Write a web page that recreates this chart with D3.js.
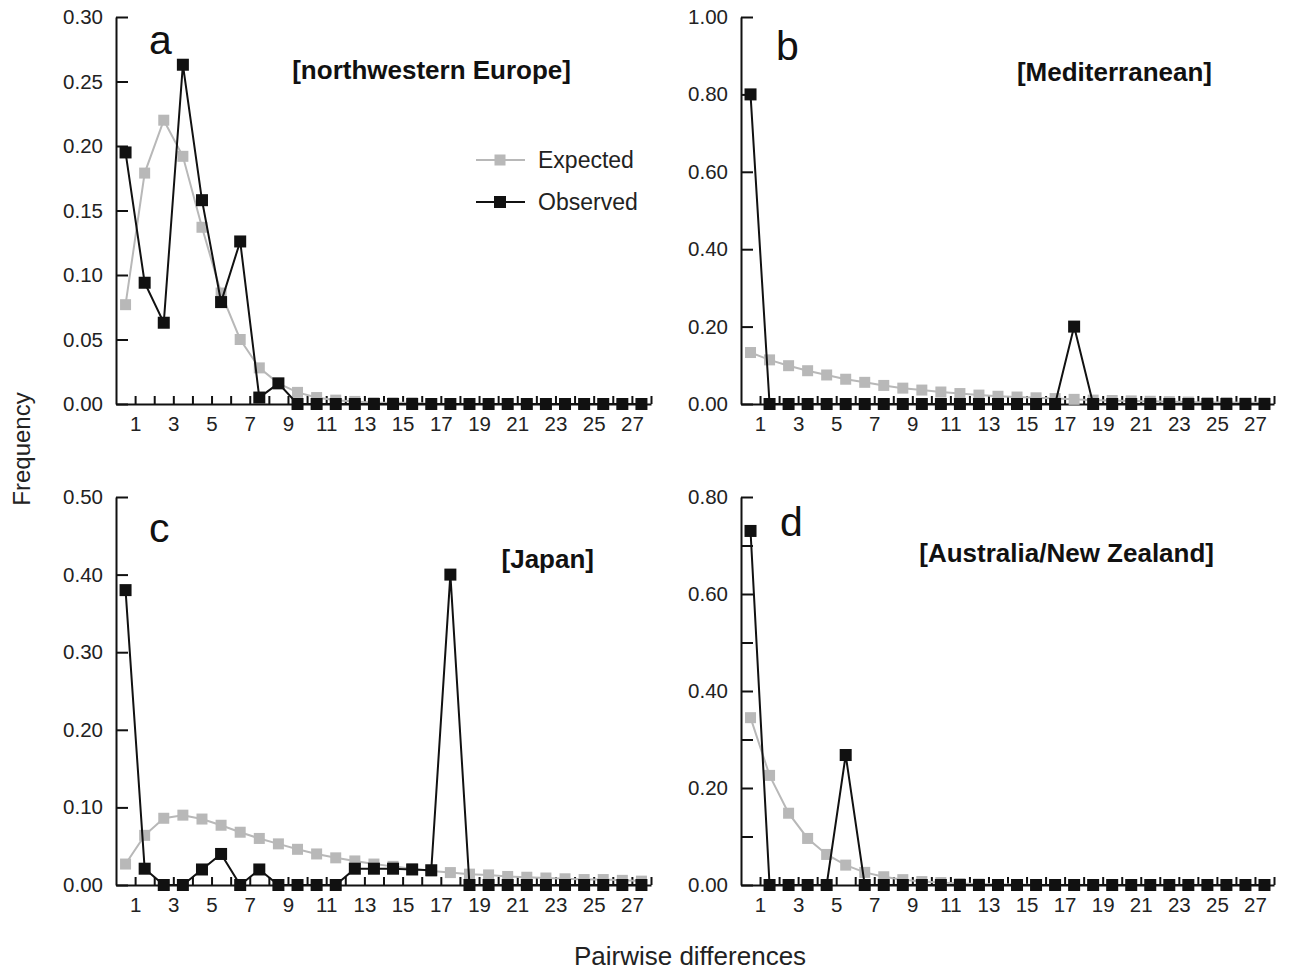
<!DOCTYPE html>
<html>
<head>
<meta charset="utf-8">
<style>
	body { margin: 0; background: #fff; }
	svg { display: block; font-family: "Liberation Sans", Arial, sans-serif; }
</style>
</head>
<body>
<svg width="1299" height="972"></svg>
<script src="https://d3js.org/d3.v7.min.js"></script>
<script>
	const svg = d3.select("svg");

	// pairwise difference classes (one point per class) and axis labels
	const diffClasses = [0, 1, 2, 3, 4, 5, 6, 7, 8, 9, 10, 11, 12, 13, 14, 15, 16, 17, 18, 19, 20, 21, 22, 23, 24, 25, 26, 27];
	const xTicks = [1, 2, 3, 4, 5, 6, 7, 8, 9, 10, 11, 12, 13, 14, 15, 16, 17, 18, 19, 20, 21, 22, 23, 24, 25, 26, 27, 28];
	const xLabels = [1, 3, 5, 7, 9, 11, 13, 15, 17, 19, 21, 23, 25, 27];

	// a: northwestern Europe
	const expectedA = [0.077, 0.179, 0.220, 0.192, 0.137, 0.086, 0.050, 0.028, 0.016, 0.009, 0.005, 0.003, 0.002, 0.001, 0.001, 0.001, 0, 0, 0, 0, 0, 0, 0, 0, 0, 0, 0, 0];
	const observedA = [0.195, 0.094, 0.063, 0.263, 0.158, 0.079, 0.126, 0.005, 0.016, 0, 0, 0, 0, 0, 0, 0, 0, 0, 0, 0, 0, 0, 0, 0, 0, 0, 0, 0];
	const yTicksA = [0, 0.05, 0.10, 0.15, 0.20, 0.25, 0.30];

	// b: Mediterranean
	const expectedB = [0.133, 0.114, 0.099, 0.086, 0.075, 0.064, 0.056, 0.048, 0.041, 0.036, 0.031, 0.027, 0.023, 0.020, 0.018, 0.016, 0.014, 0.012, 0.010, 0.009, 0.008, 0.007, 0.006, 0.005, 0.004, 0.004, 0.003, 0.003];
	const observedB = [0.80, 0, 0, 0, 0, 0, 0, 0, 0, 0, 0, 0, 0, 0, 0, 0, 0, 0.20, 0, 0, 0, 0, 0, 0, 0, 0, 0, 0];
	const yTicksB = [0, 0.20, 0.40, 0.60, 0.80, 1.00];

	// c: Japan
	const expectedC = [0.027, 0.064, 0.086, 0.090, 0.085, 0.077, 0.068, 0.060, 0.053, 0.046, 0.040, 0.035, 0.031, 0.027, 0.024, 0.021, 0.018, 0.016, 0.014, 0.013, 0.011, 0.010, 0.009, 0.008, 0.007, 0.007, 0.006, 0.005];
	const observedC = [0.38, 0.021, 0, 0, 0.020, 0.040, 0, 0.020, 0, 0, 0, 0, 0.021, 0.021, 0.021, 0.020, 0.019, 0.40, 0, 0, 0, 0, 0, 0, 0, 0, 0, 0];
	const yTicksC = [0, 0.10, 0.20, 0.30, 0.40, 0.50];

	// d: Australia/New Zealand
	const expectedD = [0.345, 0.226, 0.148, 0.096, 0.063, 0.041, 0.026, 0.017, 0.011, 0.007, 0.005, 0.003, 0.002, 0.001, 0.001, 0, 0, 0, 0, 0, 0, 0, 0, 0, 0, 0, 0, 0];
	const observedD = [0.73, 0, 0, 0, 0, 0.268, 0, 0, 0, 0, 0, 0, 0, 0, 0, 0, 0, 0, 0, 0, 0, 0, 0, 0, 0, 0, 0, 0];
	const yTicksD = [0, 0.10, 0.20, 0.30, 0.40, 0.50, 0.60, 0.70, 0.80];
	const yLabelsD = [0, 0.20, 0.40, 0.60, 0.80];

	const gray = "#b8b8b8";
	const ink = "#111";

	const panels = [
		{ letter: "a", region: "[northwestern Europe]", expected: expectedA, observed: observedA, yTicks: yTicksA, yLabels: yTicksA,
		  left: 116, right: 651, top: 17, bottom: 404, letterPos: [149, 54], regionPos: [571, 79] },
		{ letter: "b", region: "[Mediterranean]", expected: expectedB, observed: observedB, yTicks: yTicksB, yLabels: yTicksB,
		  left: 741, right: 1274, top: 17, bottom: 404, letterPos: [776, 60], regionPos: [1212, 81] },
		{ letter: "c", region: "[Japan]", expected: expectedC, observed: observedC, yTicks: yTicksC, yLabels: yTicksC,
		  left: 116, right: 651, top: 497, bottom: 885, letterPos: [149, 542], regionPos: [594, 568] },
		{ letter: "d", region: "[Australia/New Zealand]", expected: expectedD, observed: observedD, yTicks: yTicksD, yLabels: yLabelsD,
		  left: 741, right: 1274, top: 497, bottom: 885, letterPos: [780, 536], regionPos: [1214, 562] },
	];

	panels.forEach((p) => {
		const g = svg.append("g").attr("class", "panel-" + p.letter);
		const x = d3.scaleLinear().domain([0, 28]).range([p.left, p.right]);
		const y = d3.scaleLinear().domain([0, d3.max(p.yTicks)]).range([p.bottom, p.top]);

		// y axis, ticks pointing inward
		const ya = g.append("g")
			.attr("transform", "translate(" + p.left + ",0)")
			.call(d3.axisLeft(y)
				.tickValues(p.yTicks)
				.tickSize(-12)
				.tickSizeOuter(0)
				.tickPadding(13)
				.tickFormat((d) => (p.yLabels.some((l) => Math.abs(l - d) < 1e-9) ? d3.format(".2f")(d) : "")));

		// x axis, ticks at class borders pointing up
		const xa = g.append("g")
			.attr("transform", "translate(0," + p.bottom + ")")
			.call(d3.axisBottom(x)
				.tickValues(xTicks)
				.tickSize(-8)
				.tickSizeOuter(0)
				.tickPadding(12)
				.tickFormat((d) => (xLabels.includes(d) ? d : "")));

		[ya, xa].forEach((a) => {
			a.select(".domain").attr("stroke", ink).attr("stroke-width", 2);
			a.selectAll(".tick line").attr("stroke", ink).attr("stroke-width", 2);
			a.selectAll(".tick text").attr("fill", "#222").style("font-size", "20.5px");
		});

		const line = d3.line()
			.x((d, i) => x(diffClasses[i] + 0.5))
			.y((d) => y(d));

		// expected (grey) below, observed (black) on top
		g.append("path")
			.datum(p.expected)
			.attr("fill", "none")
			.attr("stroke", gray)
			.attr("stroke-width", 2)
			.attr("d", line);
		g.selectAll("rect.exp")
			.data(p.expected)
			.join("rect")
			.attr("class", "exp")
			.attr("x", (d, i) => x(diffClasses[i] + 0.5) - 5.5)
			.attr("y", (d) => y(d) - 5.5)
			.attr("width", 11)
			.attr("height", 11)
			.attr("fill", gray);

		g.append("path")
			.datum(p.observed)
			.attr("fill", "none")
			.attr("stroke", ink)
			.attr("stroke-width", 2)
			.attr("d", line);
		g.selectAll("rect.obs")
			.data(p.observed)
			.join("rect")
			.attr("class", "obs")
			.attr("x", (d, i) => x(diffClasses[i] + 0.5) - 6)
			.attr("y", (d) => y(d) - 6)
			.attr("width", 12)
			.attr("height", 12)
			.attr("fill", ink);

		g.append("text")
			.attr("x", p.letterPos[0])
			.attr("y", p.letterPos[1])
			.attr("fill", ink)
			.style("font-size", "41px")
			.text(p.letter);

		g.append("text")
			.attr("x", p.regionPos[0])
			.attr("y", p.regionPos[1])
			.attr("text-anchor", "end")
			.attr("fill", ink)
			.style("font-size", "26px")
			.style("font-weight", "bold")
			.text(p.region);
	});

	// legend inside panel a
	const legend = svg.append("g").attr("class", "legend");
	const legendItems = [
		{ name: "Expected", color: gray, size: 11, y: 160 },
		{ name: "Observed", color: ink, size: 12, y: 202 },
	];
	legendItems.forEach((it) => {
		legend.append("line")
			.attr("x1", 476).attr("x2", 525)
			.attr("y1", it.y).attr("y2", it.y)
			.attr("stroke", it.color)
			.attr("stroke-width", 2);
		legend.append("rect")
			.attr("x", 500 - it.size / 2).attr("y", it.y - it.size / 2)
			.attr("width", it.size).attr("height", it.size)
			.attr("fill", it.color);
		legend.append("text")
			.attr("x", 538).attr("y", it.y + 8)
			.attr("fill", "#222")
			.style("font-size", "23px")
			.text(it.name);
	});

	// shared axis titles
	svg.append("text")
		.attr("transform", "translate(30,449) rotate(-90)")
		.attr("text-anchor", "middle")
		.attr("fill", "#222")
		.style("font-size", "24px")
		.text("Frequency");

	svg.append("text")
		.attr("x", 690)
		.attr("y", 965)
		.attr("text-anchor", "middle")
		.attr("fill", "#222")
		.style("font-size", "26px")
		.text("Pairwise differences");
</script>
</body>
</html>
